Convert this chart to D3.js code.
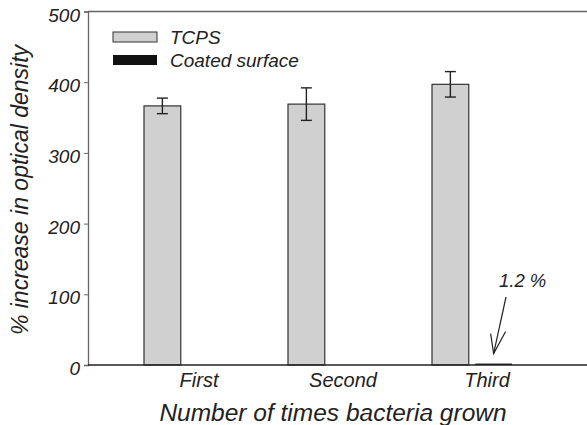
<!DOCTYPE html>
<html><head><meta charset="utf-8">
<script src="https://cdn.jsdelivr.net/npm/d3@7"></script>
<style>
body{margin:0;background:#fff;}
text{font-family:"Liberation Sans",Arial,sans-serif;font-style:italic;fill:#222;}
</style></head>
<body><svg id="c" width="587" height="425"></svg>
<script>
const categories = ["First","Second","Third"];
const seriesNames = ["TCPS","Coated surface"];
const tcpsValues = [366.5, 369, 397];
const tcpsErrors = [11, 23, 18];
const coatedValues = [0, 0, 2];
const yTicks = [0,100,200,300,400,500];
const annotationText = "1.2 %";

(function(){
const svg = d3.select("#c");
const mLeft = 88, mBottom = 365, mTop = 11.5, mRight = 587;
const FF = "Liberation Sans, Arial, sans-serif";

const y = d3.scaleLinear().domain([0,500]).range([mBottom, mTop]);
const x0 = d3.scaleBand().domain(categories).range([112,544]).paddingInner(64/144).paddingOuter(32/144);
const x1 = d3.scaleBand().domain(seriesNames).range([0, x0.bandwidth()]).paddingInner(0.15);

// top border
svg.append("line").attr("x1",mLeft).attr("x2",mRight).attr("y1",y(500)).attr("y2",y(500)).attr("stroke","#666").attr("stroke-width",1.3);

// bars
const data = categories.map((c,i)=>({c, t:tcpsValues[i], e:tcpsErrors[i], k:coatedValues[i]}));
svg.selectAll("rect.t").data(data).enter().append("rect")
  .attr("x", d=>x0(d.c)+x1("TCPS")).attr("width", x1.bandwidth())
  .attr("y", d=>y(d.t)).attr("height", d=>y(0)-y(d.t))
  .attr("fill","#d0d0d0").attr("stroke","#333").attr("stroke-width",1.2);
svg.selectAll("rect.k").data(data.filter(d=>d.k>0)).enter().append("rect")
  .attr("x", d=>x0(d.c)+x1("Coated surface")).attr("width", x1.bandwidth())
  .attr("y", d=>y(d.k)).attr("height", d=>y(0)-y(d.k))
  .attr("fill","#111");

// error bars
const eg = svg.selectAll("g.err").data(data).enter().append("g").attr("stroke","#222").attr("stroke-width",1.4);
const cx = d=>x0(d.c)+x1("TCPS")+x1.bandwidth()/2;
eg.append("line").attr("x1",cx).attr("x2",cx)
  .attr("y1",d=>y(d.t+d.e)).attr("y2",d=>y(d.t-d.e));
[1,-1].forEach(s=>{
  eg.append("line").attr("x1",d=>cx(d)-5.5).attr("x2",d=>cx(d)+5.5)
    .attr("y1",d=>y(d.t+s*d.e)).attr("y2",d=>y(d.t+s*d.e));
});

// y axis
const ya = svg.append("g").attr("transform",`translate(${mLeft},0)`)
  .call(d3.axisLeft(y).tickValues(yTicks).tickSize(4).tickPadding(4).tickFormat(d3.format("d")));
ya.select(".domain").attr("stroke","#666").attr("stroke-width",1.3);
ya.selectAll(".tick line").attr("stroke","#666");
ya.selectAll(".tick text").attr("font-size",19).attr("font-family",FF).attr("font-style","italic").attr("fill","#222").attr("dy","0.5em");

// x axis
const xa = svg.append("g").attr("transform",`translate(0,${mBottom})`)
  .call(d3.axisBottom(x0).tickSize(0).tickPadding(8));
xa.select(".domain").remove();
svg.append("line").attr("x1",mLeft).attr("x2",mRight).attr("y1",mBottom).attr("y2",mBottom).attr("stroke","#222").attr("stroke-width",1.3);
xa.selectAll(".tick text").attr("font-size",20).attr("font-family",FF).attr("font-style","italic").attr("fill","#222").attr("dx",15);

// axis titles
svg.append("text").attr("x",333).attr("y",421).attr("text-anchor","middle").attr("font-size",24.5).text("Number of times bacteria grown");
svg.append("text").attr("transform","translate(28,190) rotate(-90)").attr("text-anchor","middle").attr("font-size",23).text("% increase in optical density");

// legend
const lg = svg.append("g");
lg.append("rect").attr("x",113).attr("y",32).attr("width",44).attr("height",10).attr("fill","#d0d0d0").attr("stroke","#333").attr("stroke-width",1);
lg.append("rect").attr("x",113).attr("y",55).attr("width",44).attr("height",10).attr("fill","#111");
lg.append("text").attr("x",170).attr("y",44).attr("font-size",19).text(seriesNames[0]);
lg.append("text").attr("x",170).attr("y",67).attr("font-size",19).text(seriesNames[1]);

// annotation
const tip = [x0("Third")+x1("Coated surface")+x1.bandwidth()/2, y(coatedValues[2])-10];
svg.append("text").attr("x",499).attr("y",287).attr("font-size",18.5).text(annotationText);
const ag = svg.append("g").attr("stroke","#222").attr("stroke-width",1.2).attr("fill","none");
ag.append("line").attr("x1",506).attr("y1",297).attr("x2",tip[0]).attr("y2",tip[1]);
ag.append("polyline").attr("points",`${tip[0]-3},${tip[1]-20} ${tip[0]},${tip[1]} ${tip[0]+12},${tip[1]-22}`);
})();
</script></body></html>
